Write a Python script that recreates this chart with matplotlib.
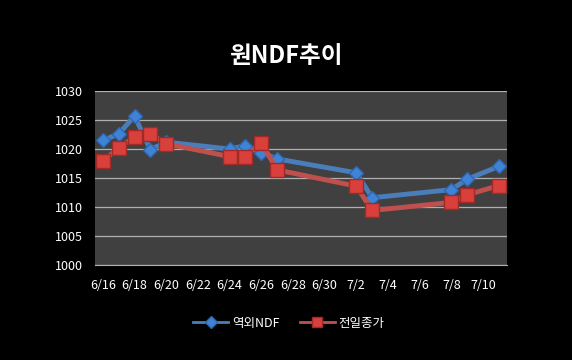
import datetime as dt
import matplotlib
matplotlib.use("Agg")
import matplotlib.pyplot as plt
import matplotlib.dates as mdates

plt.rcParams['font.family'] = ['Noto Sans CJK KR', 'DejaVu Sans']

# data
dates = ['6/16', '6/17', '6/18', '6/19', '6/20', '6/24', '6/25', '6/26',
         '6/27', '7/2', '7/3', '7/8', '7/9', '7/11']
ndf = [1021.5, 1022.6, 1025.7, 1019.9, 1021.2, 1020.0, 1020.6, 1019.4,
       1018.3, 1015.9, 1011.6, 1013.0, 1014.8, 1017.0]
close = [1017.9, 1020.2, 1022.1, 1022.6, 1020.9, 1018.7, 1018.7, 1021.1,
         1016.4, 1013.6, 1009.4, 1010.8, 1012.1, 1013.7]
tick_dates = ['6/16', '6/18', '6/20', '6/22', '6/24', '6/26', '6/28', '6/30',
              '7/2', '7/4', '7/6', '7/8', '7/10']


def to_date(s):
    m, d = s.split('/')
    return dt.date(2010, int(m), int(d))


x = [to_date(s) for s in dates]
ticks = [to_date(s) for s in tick_dates]

fig = plt.figure(figsize=(5.72, 3.6), dpi=100, facecolor='black')
ax = fig.add_axes([0.166, 0.264, 0.72, 0.483])
ax.set_facecolor('#404040')

ax.plot(x, ndf, color='#4a7ebb', lw=3.5, marker='D', ms=7.5,
        mfc='#3f83d6', mec='#2f66b0', label='역외NDF', zorder=3)
ax.plot(x, close, color='#c0504d', lw=3.5, marker='s', ms=9.5,
        mfc='#d9403c', mec='#a02a28', label='전일종가', zorder=4)

ax.set_ylim(1000, 1030)
ax.set_yticks(range(1000, 1031, 5))
ax.yaxis.grid(True, color='#b0b0b0', lw=0.9)
ax.set_axisbelow(True)

start = mdates.date2num(to_date('6/16'))
ax.set_xlim(start - 0.5, mdates.date2num(to_date('7/11')) + 0.5)
ax.set_xticks(ticks)
ax.set_xticklabels(tick_dates)

for s in ax.spines.values():
    s.set_visible(False)
ax.spines['bottom'].set_visible(True)
ax.spines['bottom'].set_color('#b0b0b0')
ax.tick_params(length=0, colors='white', labelsize=9, pad=10)
ax.tick_params(axis='y', pad=9)

fig.text(0.5, 0.845, '원NDF추이', color='white', fontsize=17,
         fontweight='bold', ha='center', va='center')

leg = fig.legend(loc='center', bbox_to_anchor=(0.505, 0.102), ncol=2,
                 frameon=False, fontsize=9, labelcolor='white',
                 handlelength=2.8, columnspacing=1.6, handletextpad=0.3,
                 markerscale=0.75)
for line in leg.get_lines():
    line.set_linewidth(2)

fig.savefig('out.png', dpi=100, facecolor='black')
